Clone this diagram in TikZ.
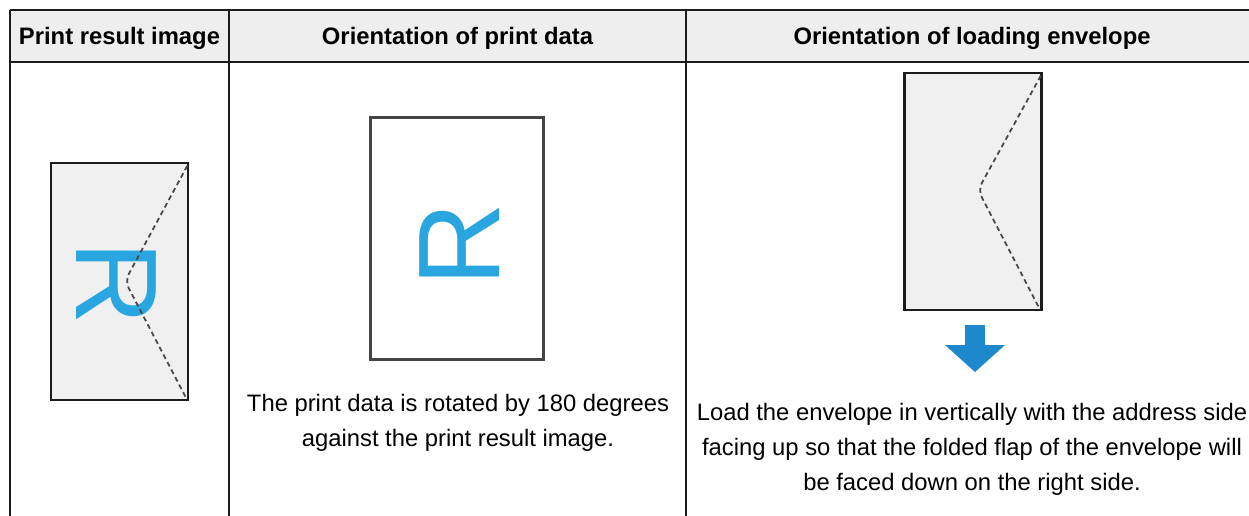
\documentclass[tikz,border=0pt]{standalone}
\usepackage{fontspec}
\setmainfont{Liberation Sans}
\definecolor{hdrfill}{HTML}{EEEEEE}
\definecolor{rulecol}{HTML}{1C1C1C}
\definecolor{envfill}{HTML}{F0F0F0}
\definecolor{rblue}{HTML}{29A6E0}
\definecolor{arrowblue}{HTML}{1E88CC}
\definecolor{dashgray}{HTML}{4A4A4A}
\definecolor{papercol}{HTML}{444444}
\begin{document}
\begin{tikzpicture}[x=1pt,y=-1pt,
  tableline/.style={draw=rulecol,line width=2pt},
  envbox/.style={draw=rulecol,fill=envfill,line width=2.6pt,minimum width=137pt,minimum height=237pt,inner sep=0pt},
  paperbox/.style={draw=papercol,fill=white,line width=3pt,minimum width=173pt,minimum height=241pt,inner sep=0pt},
  flapline/.style={draw=dashgray,line width=1.8pt,dash pattern=on 5pt off 3.5pt,rounded corners=8pt},
  bigR/.style={text=rblue,inner sep=0pt,font=\fontsize{116}{116}\selectfont},
  headtext/.style={inner sep=0pt,anchor=base,font=\fontsize{23.8}{35}\selectfont\bfseries},
  bodytext/.style={inner sep=0pt,anchor=north,align=center,font=\fontsize{23.8}{35}\selectfont}
]
\useasboundingbox (0,0) rectangle (1249,516);
% header background
\fill[hdrfill] (9.5,10) rectangle (1258,62);
% table rules
\draw[tableline] (9.5,10) -- (1258,10);
\draw[tableline] (9.5,62) -- (1258,62);
\draw[tableline] (9.5,10) -- (9.5,530);
\draw[tableline] (229,10) -- (229,530);
\draw[tableline] (686,10) -- (686,530);
\draw[tableline] (1258,10) -- (1258,530);
% headers
\node[headtext] (h1) at (119.5,44.5) {Print result image};
\node[headtext] (h2) at (457.5,44.5) {Orientation of print data};
\node[headtext] (h3) at (972,44.5) {Orientation of loading envelope};
% column 1: print result image
\node[envbox] (env1) at (119.5,281.5) {};
\node[bigR,rotate=-90] (r1) at (116,283) {R};
\coordinate (v1) at (125,281);
\draw[flapline] ([shift={(-2,4)}]env1.north east) -- (v1) -- ([shift={(-3,-3)}]env1.south east);
% column 2: print data
\node[paperbox] (paper) at (456.5,238.5) {};
\node[bigR,rotate=90] (r2) at (460,245) {R};
\node[bodytext] (t2) at (458,394) {The print data is rotated by 180 degrees\\against the print result image.};
% column 3: loading envelope
\node[envbox] (env3) at (973,191.5) {};
\coordinate (v3) at (978,190);
\draw[flapline] ([shift={(-2,4)}]env3.north east) -- (v3) -- ([shift={(-4,-4)}]env3.south east);
\fill[arrowblue] (965,325) -- (985,325) -- (985,345) -- (1005,345) -- (975,372) -- (945,345) -- (965,345) -- cycle;
\node[bodytext] (t3) at (972,403) {Load the envelope in vertically with the address side\\facing up so that the folded flap of the envelope will\\be faced down on the right side.};
\end{tikzpicture}
\end{document}
